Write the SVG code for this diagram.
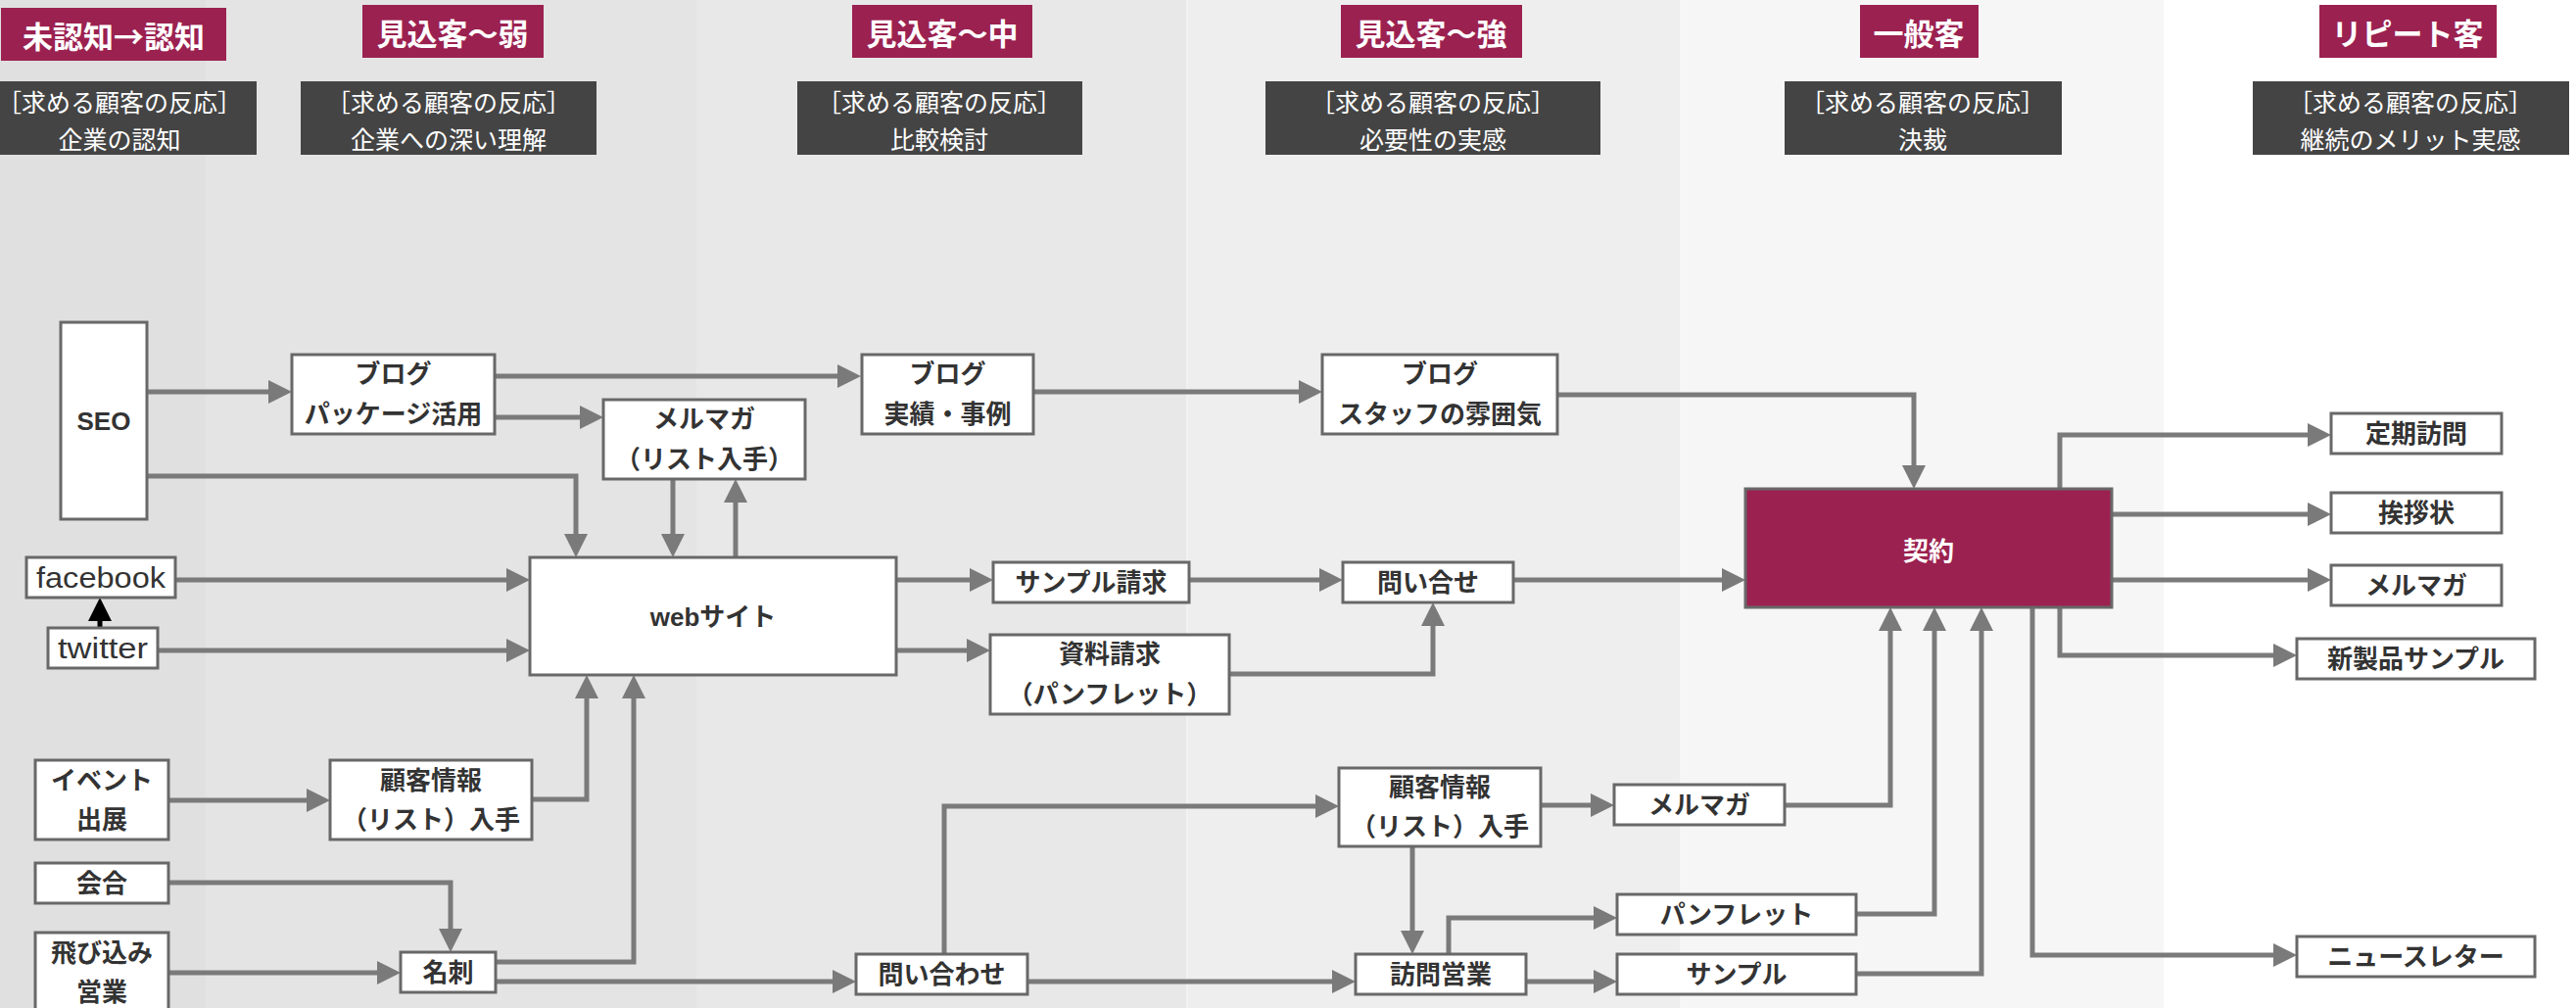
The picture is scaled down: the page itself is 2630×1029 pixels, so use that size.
<svg xmlns="http://www.w3.org/2000/svg" width="2630" height="1029" viewBox="0 0 2630 1029">
<style>
.hd{fill:#9b2150}
.hdt{fill:#fff;font-family:"Noto Sans CJK JP",sans-serif;font-weight:700;font-size:31px;text-anchor:middle;dominant-baseline:central}
.db{fill:#444}
.dbt{fill:#fff;font-family:"Noto Sans CJK JP",sans-serif;font-weight:400;font-size:25px;text-anchor:middle;dominant-baseline:central}
.nd{fill:#fff;stroke:#686868;stroke-width:3}
.nt{fill:#333;font-family:"Liberation Sans","Noto Sans CJK JP",sans-serif;font-weight:700;font-size:26px;text-anchor:middle;dominant-baseline:central}
.lt{fill:#333;font-family:"Liberation Sans","Noto Sans CJK JP",sans-serif;font-weight:400;font-size:29px;text-anchor:middle;dominant-baseline:central}
.kt{fill:#fff;font-family:"Noto Sans CJK JP",sans-serif;font-weight:700;font-size:26px;text-anchor:middle;dominant-baseline:central}
.cn{fill:none;stroke:#7a7a7a;stroke-width:5;marker-end:url(#ah)}
.cb{fill:none;stroke:#000;stroke-width:5;marker-end:url(#ahb)}
</style>
<defs>
<marker id="ah" markerUnits="userSpaceOnUse" markerWidth="24" markerHeight="24" refX="18" refY="12" orient="auto"><path d="M0,0 L24,12 L0,24 z" fill="#7a7a7a"/></marker>
<marker id="ahb" markerUnits="userSpaceOnUse" markerWidth="24" markerHeight="24" refX="18" refY="12" orient="auto"><path d="M0,0 L24,12 L0,24 z" fill="#000"/></marker>
</defs>
<g id="background">
<rect x="0" y="0" width="210" height="1029" fill="#e0e0e0"/>
<rect x="210" y="0" width="501" height="1029" fill="#e4e4e4"/>
<rect x="711" y="0" width="501" height="1029" fill="#e8e8e8"/>
<rect x="1212" y="0" width="503" height="1029" fill="#eeeeee"/>
<rect x="1715" y="0" width="494" height="1029" fill="#f6f6f6"/>
<rect x="2209" y="0" width="421" height="1029" fill="#ffffff"/>
<line x1="1212" y1="0" x2="1212" y2="1029" stroke="#f8f8f8" stroke-width="1"/>
</g>
<g id="headers">
<rect class="hd" x="1" y="8" width="230" height="54"/><text class="hdt" x="116" y="35">未認知→認知</text>
<rect class="hd" x="370" y="5" width="185" height="54"/><text class="hdt" x="462" y="32">見込客〜弱</text>
<rect class="hd" x="870" y="5" width="184" height="54"/><text class="hdt" x="962" y="32">見込客〜中</text>
<rect class="hd" x="1369" y="5" width="185" height="54"/><text class="hdt" x="1461" y="32">見込客〜強</text>
<rect class="hd" x="1899" y="5" width="121" height="54"/><text class="hdt" x="1959" y="32">一般客</text>
<rect class="hd" x="2368" y="5" width="181" height="54"/><text class="hdt" x="2458" y="32">リピート客</text>
</g>
<g id="reactions">
<rect class="db" x="0" y="83" width="262" height="75"/><text class="dbt" x="122" y="103">［求める顧客の反応］</text><text class="dbt" x="122" y="141">企業の認知</text>
<rect class="db" x="307" y="83" width="302" height="75"/><text class="dbt" x="458" y="103">［求める顧客の反応］</text><text class="dbt" x="458" y="141">企業への深い理解</text>
<rect class="db" x="814" y="83" width="291" height="75"/><text class="dbt" x="959" y="103">［求める顧客の反応］</text><text class="dbt" x="959" y="141">比較検討</text>
<rect class="db" x="1292" y="83" width="342" height="75"/><text class="dbt" x="1463" y="103">［求める顧客の反応］</text><text class="dbt" x="1463" y="141">必要性の実感</text>
<rect class="db" x="1822" y="83" width="283" height="75"/><text class="dbt" x="1963" y="103">［求める顧客の反応］</text><text class="dbt" x="1963" y="141">決裁</text>
<rect class="db" x="2300" y="83" width="323" height="75"/><text class="dbt" x="2461" y="103">［求める顧客の反応］</text><text class="dbt" x="2461" y="141">継続のメリット実感</text>
</g>
<g id="connectors">
<path class="cn" d="M150,400 H292"/>
<path class="cn" d="M505,384 H873"/>
<path class="cn" d="M505,426 H610"/>
<path class="cn" d="M150,486 H588 V563"/>
<path class="cn" d="M687,489 V563"/>
<path class="cn" d="M751,569 V495"/>
<path class="cn" d="M179,592 H535"/>
<path class="cb" d="M102,641 V616"/>
<path class="cn" d="M161,664 H535"/>
<path class="cn" d="M1055,400 H1344"/>
<path class="cn" d="M1590,403 H1954 V493"/>
<path class="cn" d="M915,592 H1008"/>
<path class="cn" d="M915,664 H1005"/>
<path class="cn" d="M1214,592 H1365"/>
<path class="cn" d="M1255,688 H1463 V621"/>
<path class="cn" d="M1545,592 H1776"/>
<path class="cn" d="M2103,499 V444 H2374"/>
<path class="cn" d="M2156,525 H2374"/>
<path class="cn" d="M2156,592 H2374"/>
<path class="cn" d="M2103,620 V669 H2339"/>
<path class="cn" d="M2075,620 V975 H2339"/>
<path class="cn" d="M1822,822 H1930 V626"/>
<path class="cn" d="M1895,933 H1975 V626"/>
<path class="cn" d="M1895,994 H2023 V626"/>
<path class="cn" d="M172,817 H331"/>
<path class="cn" d="M543,816 H599 V695"/>
<path class="cn" d="M172,901 H460 V966"/>
<path class="cn" d="M172,993 H403"/>
<path class="cn" d="M506,982 H647 V695"/>
<path class="cn" d="M506,1002 H868"/>
<path class="cn" d="M964,974 V823 H1361"/>
<path class="cn" d="M1049,1002 H1378"/>
<path class="cn" d="M1573,822 H1642"/>
<path class="cn" d="M1442,864 V968"/>
<path class="cn" d="M1479,974 V937 H1645"/>
<path class="cn" d="M1558,1002 H1645"/>
</g>
<g id="seo"><rect class="nd" x="62" y="329" width="88" height="201"/><text class="nt" x="106" y="430">SEO</text></g>
<g id="blog-package"><rect class="nd" x="298" y="362" width="207" height="81"/><text class="nt" x="401.5" y="382">ブログ</text><text class="nt" x="401.5" y="423">パッケージ活用</text></g>
<g id="mailmag-list"><rect class="nd" x="616" y="408" width="206" height="81"/><text class="nt" x="719" y="428">メルマガ</text><text class="nt" x="719" y="469">（リスト入手）</text></g>
<g id="blog-case"><rect class="nd" x="880" y="362" width="175" height="81"/><text class="nt" x="967.5" y="382">ブログ</text><text class="nt" x="967.5" y="423">実績・事例</text></g>
<g id="blog-staff"><rect class="nd" x="1350" y="362" width="240" height="81"/><text class="nt" x="1470" y="382">ブログ</text><text class="nt" x="1470" y="423">スタッフの雰囲気</text></g>
<g id="facebook"><rect class="nd" x="27" y="569" width="152" height="41"/><text class="lt" x="103" y="589.5" textLength="132" lengthAdjust="spacingAndGlyphs">facebook</text></g>
<g id="twitter"><rect class="nd" x="49" y="641" width="112" height="41"/><text class="lt" x="105" y="661.5" textLength="92" lengthAdjust="spacingAndGlyphs">twitter</text></g>
<g id="website"><rect class="nd" x="541" y="569" width="374" height="120"/><text class="nt" x="728" y="630">webサイト</text></g>
<g id="sample-request"><rect class="nd" x="1014" y="574" width="200" height="41"/><text class="nt" x="1114" y="594.5">サンプル請求</text></g>
<g id="document-request"><rect class="nd" x="1011" y="648" width="244" height="81"/><text class="nt" x="1133" y="668">資料請求</text><text class="nt" x="1133" y="709">（パンフレット）</text></g>
<g id="inquiry-1"><rect class="nd" x="1371" y="574" width="174" height="41"/><text class="nt" x="1458" y="594.5">問い合せ</text></g>
<g id="contract"><rect x="1782" y="499" width="374" height="121" fill="#9b2150" stroke="#686868" stroke-width="3"/><text class="kt" x="1969" y="560">契約</text></g>
<g id="regular-visit"><rect class="nd" x="2380" y="422" width="174" height="41"/><text class="nt" x="2467" y="442.5">定期訪問</text></g>
<g id="greeting"><rect class="nd" x="2380" y="503" width="174" height="41"/><text class="nt" x="2467" y="523.5">挨拶状</text></g>
<g id="mailmag-repeat"><rect class="nd" x="2380" y="577" width="174" height="41"/><text class="nt" x="2467" y="597.5">メルマガ</text></g>
<g id="new-sample"><rect class="nd" x="2345" y="652" width="243" height="41"/><text class="nt" x="2466.5" y="672.5">新製品サンプル</text></g>
<g id="newsletter"><rect class="nd" x="2345" y="956" width="243" height="41"/><text class="nt" x="2466.5" y="976.5">ニュースレター</text></g>
<g id="event"><rect class="nd" x="36" y="776" width="136" height="81"/><text class="nt" x="104" y="796.5">イベント</text><text class="nt" x="104" y="837">出展</text></g>
<g id="customer-info-1"><rect class="nd" x="337" y="776" width="206" height="81"/><text class="nt" x="440" y="796.5">顧客情報</text><text class="nt" x="440" y="837">（リスト）入手</text></g>
<g id="meeting"><rect class="nd" x="36" y="881" width="136" height="41"/><text class="nt" x="104" y="901.5">会合</text></g>
<g id="door-to-door"><rect class="nd" x="36" y="952" width="136" height="82"/><text class="nt" x="104" y="973">飛び込み</text><text class="nt" x="104" y="1013">営業</text></g>
<g id="business-card"><rect class="nd" x="409" y="972" width="97" height="41"/><text class="nt" x="457.5" y="992.5">名刺</text></g>
<g id="inquiry-2"><rect class="nd" x="874" y="974" width="175" height="41"/><text class="nt" x="961.5" y="994.5">問い合わせ</text></g>
<g id="customer-info-2"><rect class="nd" x="1367" y="784" width="206" height="80"/><text class="nt" x="1470" y="804">顧客情報</text><text class="nt" x="1470" y="844">（リスト）入手</text></g>
<g id="mailmag-mid"><rect class="nd" x="1648" y="801" width="174" height="41"/><text class="nt" x="1735" y="821.5">メルマガ</text></g>
<g id="sales-visit"><rect class="nd" x="1384" y="974" width="174" height="41"/><text class="nt" x="1471" y="994.5">訪問営業</text></g>
<g id="pamphlet"><rect class="nd" x="1651" y="913" width="244" height="41"/><text class="nt" x="1773" y="933.5">パンフレット</text></g>
<g id="sample"><rect class="nd" x="1651" y="974" width="244" height="41"/><text class="nt" x="1773" y="994.5">サンプル</text></g>
</svg>
